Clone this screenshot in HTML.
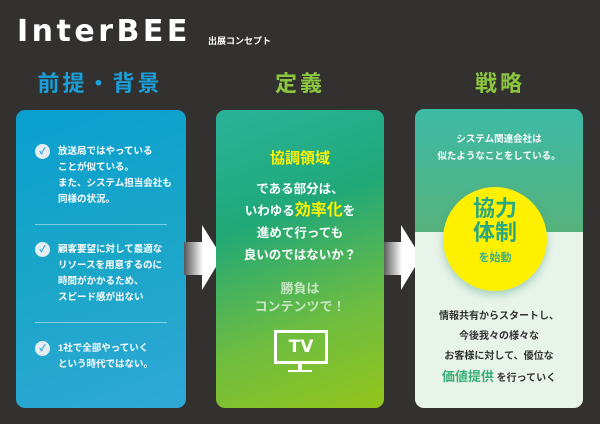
<!DOCTYPE html>
<html><head><meta charset="utf-8"><style>
*{margin:0;padding:0;box-sizing:border-box}
body{width:600px;height:424px;background:#333130;position:relative;overflow:hidden;font-family:"Liberation Sans","Noto Sans CJK JP",sans-serif;font-weight:bold}
.a{position:absolute}
.logo{left:17px;top:14px;color:#fff;font-size:30px;letter-spacing:3.5px;font-family:"DejaVu Sans","Liberation Sans",sans-serif;font-weight:bold}
.sub{left:208px;top:34px;color:#fff;font-size:9px}
.h{top:66px;font-size:22px;letter-spacing:3px;text-align:center;width:200px}
.card{border-radius:9px}
.t{color:#fff;font-size:9.5px;line-height:16px}
.chk{width:15px;height:15px;border-radius:50%;background:#e6eef2;color:#22a0d0;font-size:9px;text-align:center;line-height:15px}
.div{left:35px;width:132px;height:1px;background:rgba(255,255,255,.45)}
.c{text-align:center;width:168px}
</style></head><body>
<div class="a logo">InterBEE</div>
<div class="a sub">出展コンセプト</div>
<div class="a h" style="left:0;color:#1aa0dc">前提・背景</div>
<div class="a h" style="left:200px;color:#8cc63f">定義</div>
<div class="a h" style="left:400px;color:#8cc63f">戦略</div>

<div class="a card" style="left:16px;top:110px;width:170px;height:298px;background:linear-gradient(160deg,#0a9fd0,#1aa6c8 50%,#30a8d8)"></div>
<div class="a chk" style="left:35px;top:144px">✓</div>
<div class="a t" style="left:58px;top:144px">放送局ではやっている<br>ことが似ている。<br>また、システム担当会社も<br>同様の状況。</div>
<div class="a div" style="top:224px"></div>
<div class="a chk" style="left:35px;top:242px">✓</div>
<div class="a t" style="left:58px;top:242px">顧客要望に対して最適な<br>リソースを用意するのに<br>時間がかかるため、<br>スピード感が出ない</div>
<div class="a div" style="top:322px"></div>
<div class="a chk" style="left:35px;top:341px">✓</div>
<div class="a t" style="left:58px;top:341px">1社で全部やっていく<br>という時代ではない。</div>

<svg class="a" style="left:184px;top:222px" width="40" height="70"><defs><linearGradient id="g" x1="0" x2="1"><stop offset="0" stop-color="#555"/><stop offset=".5" stop-color="#fff"/></linearGradient></defs><polygon points="0,20 18,20 18,3 38,35 18,68 18,53 0,53" fill="url(#g)"/></svg>
<svg class="a" style="left:383px;top:222px" width="40" height="70"><polygon points="0,20 18,20 18,3 38,35 18,68 18,53 0,53" fill="url(#g)"/></svg>

<div class="a card" style="left:216px;top:110px;width:168px;height:298px;background:linear-gradient(160deg,#2bb39a,#20a878 35%,#6ebd40 70%,#94c51c)"></div>
<div class="a c" style="left:216px;top:147px;color:#fff200;font-size:15px">協調領域</div>
<div class="a c" style="left:216px;top:178px;color:#fff;font-size:12.5px;line-height:22px">である部分は、<br>いわゆる<span style="color:#fff200;font-size:16px">効率化</span>を<br>進めて行っても<br>良いのではないか？</div>
<div class="a c" style="left:216px;top:280px;color:#c5e6c0;font-size:13px;line-height:18px">勝負は<br>コンテンツで！</div>
<div class="a" style="left:274px;top:330px;width:54px;height:34px;border:3px solid #fff;color:#fff;font-size:17px;text-align:center;line-height:28px;font-family:'DejaVu Sans',sans-serif">TV</div>
<div class="a" style="left:298px;top:364px;width:4px;height:7px;background:#fff"></div>
<div class="a" style="left:288px;top:370px;width:24px;height:2px;background:#fff"></div>

<div class="a card" style="left:415px;top:109px;width:168px;height:299px;background:linear-gradient(180deg,#3dbaa6,#56b27c 123px,#e8f3ea 123px)"></div>
<div class="a c" style="left:415px;top:131px;color:#fff;font-size:9.5px;line-height:17px">システム関連会社は<br>似たようなことをしている。</div>
<div class="a" style="left:443px;top:187px;width:104px;height:104px;border-radius:50%;background:#fff000;box-shadow:0 4px 8px rgba(60,160,120,.4);text-align:center;color:#2aa880">
<div style="font-size:22px;line-height:24px;margin-top:10px">協力<br>体制</div><div style="font-size:11px;margin-top:4px;color:#3bb08a">を始動</div></div>
<div class="a c" style="left:415px;top:307px;color:#333;font-size:10px;line-height:20px">情報共有からスタートし、<br>今後我々の様々な<br>お客様に対して、優位な<br><span style="color:#3aae78;font-size:13px">価値提供</span> を行っていく</div>
</body></html>
